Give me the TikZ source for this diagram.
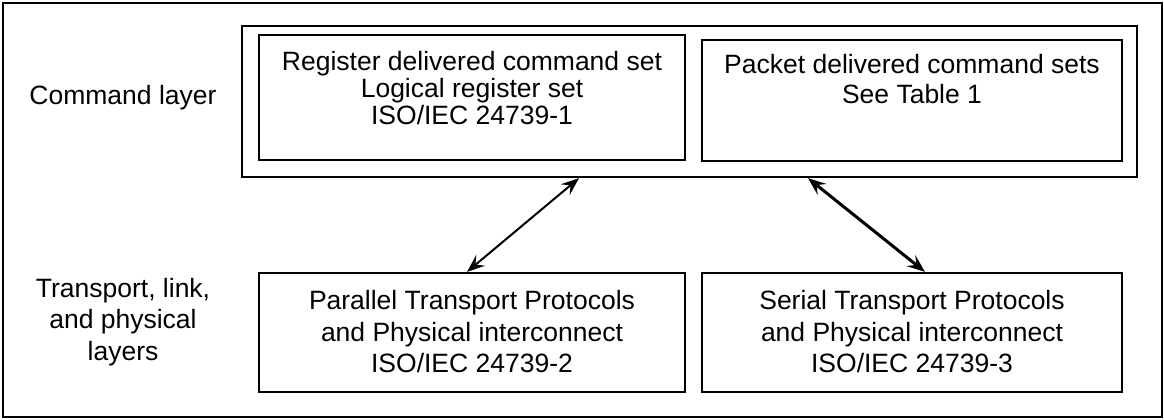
\documentclass[tikz,border=0pt]{standalone}
\usepackage{fontspec}
\setmainfont{Liberation Sans}
\usepackage{tikz}
\usetikzlibrary{arrows.meta, positioning, fit}

\begin{document}
\begin{tikzpicture}[x=0.5pt,y=-0.5pt,>={Stealth[length=9pt,width=7pt,inset=3.5pt]},
    box/.style={draw=black, line width=1.15pt, inner sep=0pt},
    lbl/.style={align=center, inner sep=0pt, font=\fontsize{13.25pt}{15.75pt}\selectfont},
    tight/.style={lbl, font=\fontsize{13.25pt}{12.25pt}\selectfont}]
    \useasboundingbox (0,0) rectangle (1164,419);

    % frame
    \node[box, line width=0.6pt, fit={(3,3) (1162,417)}] (frame) {};

    % command layer
    \node[box, fit={(242,26) (1137,177)}] (cmd) {};
    \node[box, fit={(259,35) (685,160)}] (reg) {};
    \node[box, fit={(702,40) (1122,161)}] (pkt) {};

    % transport layers
    \node[box, fit={(259,273) (685,392)}] (par) {};
    \node[box, fit={(702,273) (1122,392)}] (ser) {};

    % texts
    \node[lbl] (cmdlbl) at (123,98) {Command layer};
    \node[lbl] (trlbl) at (123,322) {Transport, link,\\and physical\\layers};
    \node[tight] (regtxt) at (472,88)
      {Register delivered command set\\Logical register set\\ISO/IEC 24739-1};
    \node[lbl, font=\fontsize{13.25pt}{15pt}\selectfont] (pkttxt) at (912,79)
      {Packet delivered command sets\\See Table 1};
    \node[lbl] (partxt) at (472,332)
      {Parallel Transport Protocols\\and Physical interconnect\\ISO/IEC 24739-2};
    \node[lbl] (sertxt) at (912,332)
      {Serial Transport Protocols\\and Physical interconnect\\ISO/IEC 24739-3};

    % arrows
    \draw[<->, line width=1pt] (579,0 |- cmd.south) -- (467,0 |- par.north);
    \draw[<->, line width=1.5pt] (808,0 |- cmd.south) -- (925,0 |- ser.north);
  \end{tikzpicture}
\end{document}
